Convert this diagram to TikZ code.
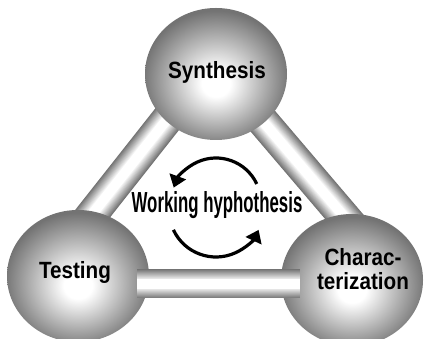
\documentclass[tikz,border=0pt]{standalone}
\usepackage{fontspec}
\setmainfont{Liberation Sans Bold}[FakeStretch=0.88]
\newfontfamily\hipfont{Liberation Sans Bold}[FakeStretch=0.58]
\usetikzlibrary{shapes.geometric,arrows.meta,backgrounds,calc}

\pgfdeclareradialshading{esfera}{\pgfpoint{0bp}{-4bp}}{color(0bp)=(white); color(5bp)=(white); color(26bp)=(black!55); color(50bp)=(black!55)}

\tikzset{
  bola/.style={ellipse, minimum width=142pt, minimum height=132pt, inner sep=0pt, shading=esfera},
  rotulo/.style={font=\fontsize{23.5}{24}\selectfont, align=center},
  ciclo/.style={line width=3.2pt, -{Triangle[width=17pt,length=12pt]}},
}

\begin{document}
\begin{tikzpicture}[x=1pt,y=1pt]
    \useasboundingbox (0,0) rectangle (425,339);
    \clip (0,0) rectangle (425,339);

    %Esferas
    \node[bola, label={[rotulo,xshift=1pt,yshift=2pt]center:Synthesis}] (sint) at (216,265) {};
    \node[bola, label={[rotulo,xshift=-3pt,yshift=4pt]center:Testing}] (test) at (78,63) {};
    \node[bola, label={[rotulo,xshift=11pt,yshift=11pt]center:Charac-\\terization}] (carac) at (352,59) {};

    %Barras detras de las esferas
    \begin{pgfonlayer}{background}
        \coordinate (b1) at ($(test)+(-18,21)$);
        \coordinate (b2) at ($(sint)+(-10,4)$);
        \coordinate (b3) at ($(sint)+(4,3)$);
        \coordinate (b4) at ($(carac)+(24,26)$);
        \foreach \a/\b in {b1/b2, b3/b4}{
            \foreach \k in {0,...,15}{
                \pgfmathsetmacro\w{32*(1-\k/16)}
                \pgfmathsetmacro\c{max(0,55*(1-\k/11))}
                \draw[line width=\w pt, black!\c] (\a) -- (\b);
            }
        }
    \end{pgfonlayer}

    %Barra de abajo
    \coordinate (b5) at ($(test)+(59,-8)$);
    \coordinate (b6) at ($(carac)+(-52,-4)$);
    \foreach \k in {0,...,15}{
        \pgfmathsetmacro\w{29*(1-\k/16)}
        \pgfmathsetmacro\c{max(0,55*(1-\k/11))}
        \draw[line width=\w pt, black!\c] (b5) -- (b6);
    }

    %Hipotesis de trabajo
    \node[font=\hipfont\fontsize{29}{30}\selectfont] (hip) at (217,134) {Working hyphothesis};
    \draw[ciclo] ($(hip.center)+(-1,2)+(25:45)$) arc[start angle=25, end angle=160, radius=45];
    \draw[ciclo] ($(hip.center)+(-1,-5)+(205:47)$) arc[start angle=205, end angle=335, radius=47];

\end{tikzpicture}
\end{document}
